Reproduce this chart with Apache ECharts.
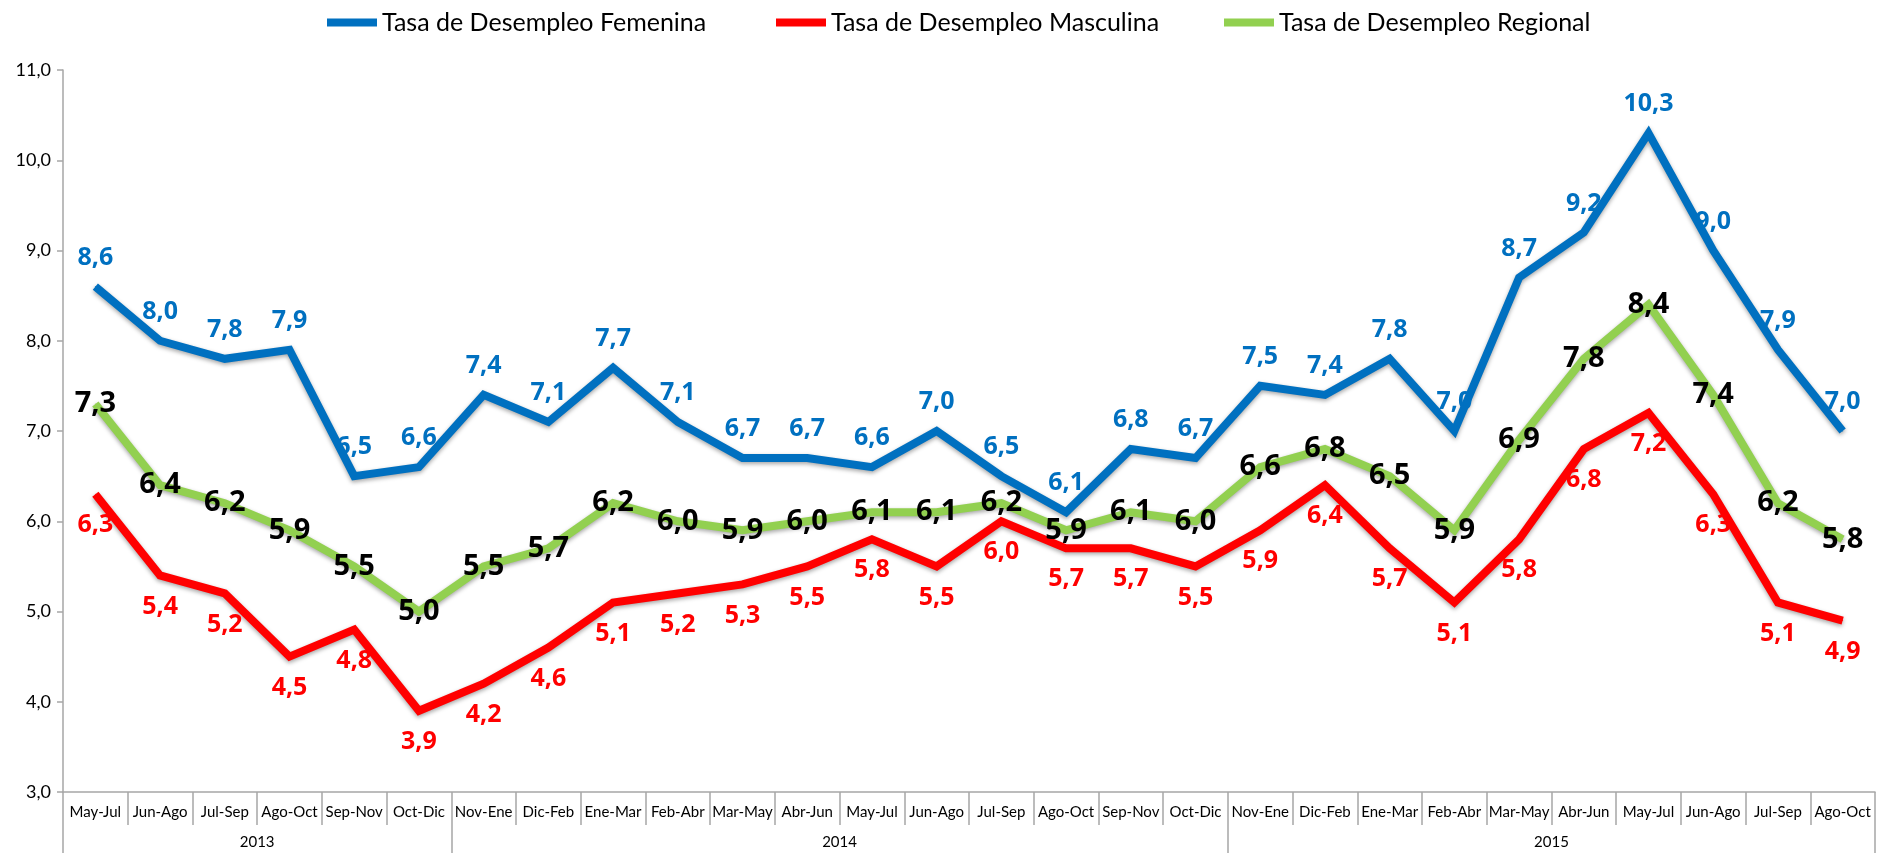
<!DOCTYPE html>
<html>
<head>
<meta charset="utf-8">
<script src="https://cdn.jsdelivr.net/npm/echarts@6/dist/echarts.min.js"></script>
<style>
html,body{margin:0;padding:0;background:#fff;}
#chart{width:1877px;height:853px;}
</style>
</head>
<body>
<div id="chart"></div>
<script>
const categories = ['May-Jul','Jun-Ago','Jul-Sep','Ago-Oct','Sep-Nov','Oct-Dic',
  'Nov-Ene','Dic-Feb','Ene-Mar','Feb-Abr','Mar-May','Abr-Jun','May-Jul','Jun-Ago','Jul-Sep','Ago-Oct','Sep-Nov','Oct-Dic',
  'Nov-Ene','Dic-Feb','Ene-Mar','Feb-Abr','Mar-May','Abr-Jun','May-Jul','Jun-Ago','Jul-Sep','Ago-Oct'];
const years = ['2013','2014','2015'];
const yearCounts = [6, 12, 10];
const femenina = [8.6,8.0,7.8,7.9,6.5,6.6,7.4,7.1,7.7,7.1,6.7,6.7,6.6,7.0,6.5,6.1,6.8,6.7,7.5,7.4,7.8,7.0,8.7,9.2,10.3,9.0,7.9,7.0];
const masculina = [6.3,5.4,5.2,4.5,4.8,3.9,4.2,4.6,5.1,5.2,5.3,5.5,5.8,5.5,6.0,5.7,5.7,5.5,5.9,6.4,5.7,5.1,5.8,6.8,7.2,6.3,5.1,4.9];
const regional = [7.3,6.4,6.2,5.9,5.5,5.0,5.5,5.7,6.2,6.0,5.9,6.0,6.1,6.1,6.2,5.9,6.1,6.0,6.6,6.8,6.5,5.9,6.9,7.8,8.4,7.4,6.2,5.8];
const seriesNames = ['Tasa de Desempleo Femenina','Tasa de Desempleo Masculina','Tasa de Desempleo Regional'];

const FONT = 'Lato, "Open Sans", sans-serif';
const LABEL_FONT = '"Open Sans", Lato, sans-serif';
const fmt = v => v.toFixed(1).replace('.', ',');

const bounds = [0];
yearCounts.forEach(c => bounds.push(bounds[bounds.length-1] + c));
const centers = yearCounts.map((c, i) => bounds[i] + c / 2);

const chart = echarts.init(document.getElementById('chart'), null, {renderer: 'canvas'});
const shadow = {shadowColor: 'rgba(0,0,0,0.35)', shadowBlur: 4, shadowOffsetY: 2};

function lineSeries(name, data, color, label) {
  return {
    name, type: 'line', data, xAxisIndex: 0, yAxisIndex: 0,
    symbol: 'circle', symbolSize: 1, showSymbol: true, smooth: false,
    lineStyle: Object.assign({color, width: 8, cap: 'butt', join: 'miter'}, shadow),
    itemStyle: {color},
    label: Object.assign({show: true, fontFamily: LABEL_FONT, fontWeight: 'bold',
      formatter: p => fmt(p.value)}, label),
    labelLayout: {hideOverlap: false},
    emphasis: {disabled: true},
    animation: false
  };
}

const legendLefts = [322, 771, 1219];
const legendColors = ['#0070C0', '#FF0000', '#92D050'];

chart.setOption({
  backgroundColor: '#fff',
  animation: false,
  legend: seriesNames.map((n, i) => ({
    top: 5, left: legendLefts[i],
    itemWidth: 50, itemHeight: 8, itemGap: 0,
    icon: 'rect',
    textStyle: {fontFamily: FONT, fontSize: 25, color: '#000'},
    data: [n]
  })),
  grid: {left: 63, right: 2, top: 70, bottom: 61, containLabel: false},
  xAxis: [
    {
      type: 'category', data: categories, boundaryGap: true, position: 'bottom',
      axisLine: {lineStyle: {color: '#A6A6A6', width: 1.5}},
      axisTick: {show: true, interval: 0, length: 33, lineStyle: {color: '#A6A6A6', width: 1.5}},
      axisLabel: {interval: 0, margin: 13, fontFamily: FONT, fontSize: 15, color: '#000'}
    },
    {
      type: 'value', min: 0, max: categories.length, position: 'bottom', offset: 33,
      axisLine: {show: false},
      splitLine: {show: false},
      axisTick: {show: true, customValues: bounds, length: 28, lineStyle: {color: '#A6A6A6', width: 1.5}},
      axisLabel: {customValues: centers, margin: 10, fontFamily: FONT, fontSize: 15, color: '#000',
        formatter: v => { const i = centers.indexOf(v); return i >= 0 ? years[i] : ''; }}
    }
  ],
  yAxis: {
    type: 'value', min: 3, max: 11, interval: 1,
    axisLine: {show: true, lineStyle: {color: '#A6A6A6', width: 1.5}},
    axisTick: {show: true, length: 6, lineStyle: {color: '#A6A6A6', width: 1.5}},
    splitLine: {show: false},
    axisLabel: {margin: 12, fontFamily: FONT, fontSize: 18, color: '#000', formatter: v => fmt(v)}
  },
  series: [
    lineSeries(seriesNames[0], femenina, legendColors[0], {position: 'top', distance: 16, color: '#0070C0', fontSize: 25}),
    lineSeries(seriesNames[1], masculina, legendColors[1], {position: 'bottom', distance: 18, color: '#FF0000', fontSize: 25}),
    lineSeries(seriesNames[2], regional, legendColors[2], {position: 'inside', color: '#000', fontSize: 29})
  ]
});
</script>
</body>
</html>
